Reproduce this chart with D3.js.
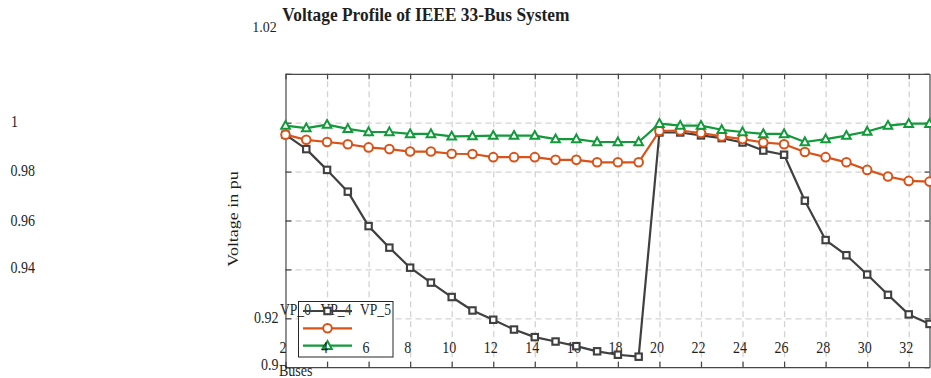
<!DOCTYPE html>
<html><head><meta charset="utf-8">
<script src="https://cdn.jsdelivr.net/npm/d3@7"></script>
<style>
body{margin:0;background:#fff}
svg{display:block}
text{font-family:"Liberation Serif","Times New Roman",serif;fill:#1f1f1f}
</style>
</head><body>
<svg id="c" width="931" height="378"></svg>
<script>
// ---------------- data ----------------
const busPositions = [2,3,4,5,6,7,8,9,10,11,12,13,14,15,16,17,18,19,20,21,22,23,24,25,26,27,28,29,30,31,32,33];
const seriesNames = ["VP_0", "VP_4", "VP_5"];
const vp0 = [0.9951,0.9892,0.9807,0.9718,0.9577,0.9489,0.9407,0.9346,0.9287,0.9232,0.9194,0.9154,0.9123,0.9105,0.9086,0.9065,0.9051,0.9043,
             0.9960,0.9960,0.9948,0.9937,0.9919,0.9886,0.9869,0.9681,0.9520,0.9458,0.9379,0.9296,0.9216,0.9177];
const vp4 = [0.9951,0.9930,0.9921,0.9912,0.9899,0.9892,0.9882,0.9882,0.9873,0.9872,0.9859,0.9859,0.9859,0.9848,0.9848,0.9838,0.9838,0.9838,
             0.9966,0.9968,0.9958,0.9944,0.9933,0.9919,0.9912,0.9880,0.9859,0.9838,0.9807,0.9780,0.9762,0.9759];
const vp5 = [0.9988,0.9978,0.9992,0.9975,0.9962,0.9962,0.9954,0.9954,0.9944,0.9945,0.9947,0.9947,0.9947,0.9933,0.9933,0.9921,0.9921,0.9921,
             0.9996,0.9988,0.9988,0.9971,0.9962,0.9954,0.9954,0.9921,0.9933,0.9947,0.9964,0.9988,0.9996,0.9996];
const xTicks = [2,4,6,8,10,12,14,16,18,20,22,24,26,28,30,32];
const yTicks = [0.9,0.92,0.94,0.96,0.98,1.0,1.02];
const yTickLabels = ["0.9","0.92","0.94","0.96","0.98","1","1.02"];
const chartTitle = "Voltage Profile of IEEE 33-Bus System";
const xLabel = "Buses";
const yLabel = "Voltage in pu";

// ---------------- layout / style ----------------
const svg = d3.select("#c");
const L = 285.5, R = 929.5, T = 73.8, B = 367.2;
const x = d3.scaleLinear().domain([2, 33]).range([L, R]);
const y = d3.scaleLinear().domain([0.9, 1.02]).range([B, T]);
const colors = ["#404040", "#d95319", "#119a3a"];
const markers = ["square", "circle", "triangle"];
const allSeries = [vp0, vp4, vp5];
const SX = 0.85; // horizontal squeeze of the serif text
const axisColor = "#474747";

function sqText(g, str, X, Y, opts) {
  const o = Object.assign({size:16.5, sx:SX, anchor:"start", weight:"normal"}, opts||{});
  return g.append("text")
    .attr("transform", `translate(${X},${Y}) scale(${o.sx},1)`)
    .attr("text-anchor", o.anchor)
    .style("font-size", o.size + "px")
    .style("font-weight", o.weight)
    .text(str);
}

// grid
const grid = svg.append("g");
grid.append("g").attr("transform", `translate(0,${B})`)
  .call(d3.axisBottom(x).tickValues(xTicks.filter(d => d > 2)).tickSize(-(B - T)).tickFormat(""))
  .call(g => g.select(".domain").remove());
grid.append("g").attr("transform", `translate(${L},0)`)
  .call(d3.axisLeft(y).tickValues(yTicks.filter(d => d > 0.9 && d < 1.02)).tickSize(-(R - L)).tickFormat(""))
  .call(g => g.select(".domain").remove());
grid.selectAll("line").attr("stroke", "#d3d3d3").attr("stroke-width", 1.3).attr("stroke-dasharray", "6,4");

// axes (box with inward ticks)
const axG = svg.append("g");
function styleAxis(g) {
  g.select(".domain").attr("stroke", axisColor).attr("stroke-width", 1.2);
  g.selectAll(".tick line").attr("stroke", axisColor).attr("stroke-width", 1.2);
}
axG.append("g").attr("transform", `translate(0,${B})`)
  .call(d3.axisBottom(x).tickValues(xTicks).tickSizeInner(-5.5).tickSizeOuter(0).tickFormat("")).call(styleAxis);
axG.append("g").attr("transform", `translate(0,${T})`)
  .call(d3.axisTop(x).tickValues(xTicks).tickSizeInner(-5.5).tickSizeOuter(0).tickFormat("")).call(styleAxis);
axG.append("g").attr("transform", `translate(${L},0)`)
  .call(d3.axisLeft(y).tickValues(yTicks).tickSizeInner(-6).tickSizeOuter(0).tickFormat("")).call(styleAxis);
axG.append("g").attr("transform", `translate(${R},0)`)
  .call(d3.axisRight(y).tickValues(yTicks).tickSizeInner(-5).tickSizeOuter(0).tickFormat("")).call(styleAxis);

// legend box (white, hides grid)
const leg = svg.append("g");
leg.append("rect").attr("x", 298.5).attr("y", 301.5).attr("width", 94.5).attr("height", 55.5)
  .attr("fill", "#fff").attr("stroke", "#262626").attr("stroke-width", 1);

// tick labels (scattered positions as in the reference)
const labels = svg.append("g");
xTicks.forEach(v => sqText(labels, String(v), x(v) - 2.5, B - 14.5, {anchor:"middle"}));
const yPlace = {
  "1.02": {anchor:"end", X: 276.7, dy: -41.5, size: 14, sx: 1},
  "1":    {anchor:"start", X: 11, dy: 4},
  "0.98": {anchor:"start", X: 10.5, dy: 4},
  "0.96": {anchor:"start", X: 10.5, dy: 5},
  "0.94": {anchor:"start", X: 10.5, dy: 3.5},
  "0.92": {anchor:"end", X: 278.5, dy: 5},
  "0.9":  {anchor:"end", X: 278.5, dy: 3}
};
yTicks.forEach((v, i) => {
  const p = yPlace[yTickLabels[i]];
  sqText(labels, yTickLabels[i], p.X, y(v) + p.dy, {anchor:p.anchor, size:p.size||16.5, sx:p.sx||SX});
});

// axis titles
sqText(svg, chartTitle, 282.3, 20.5, {size:18.5, sx:0.94, weight:"bold"});
sqText(svg, xLabel, 279, 375.5, {size:16.5});
svg.append("text")
  .attr("transform", `translate(237.5,219) rotate(-90) scale(1,0.8)`)
  .attr("text-anchor", "middle").style("font-size", "18px").text(yLabel);

// marker generator
function drawMarker(g, type, cx, cy, color) {
  if (type === "square") {
    g.append("rect").attr("x", cx - 3.2).attr("y", cy - 3.2).attr("width", 6.4).attr("height", 6.4)
      .attr("fill", "#fff").attr("stroke", color).attr("stroke-width", 2.1);
  } else if (type === "circle") {
    g.append("circle").attr("cx", cx).attr("cy", cy).attr("r", 4.3)
      .attr("fill", "#fff").attr("stroke", color).attr("stroke-width", 2);
  } else {
    g.append("path").attr("d", `M${cx},${cy - 4.6}L${cx + 4.3},${cy + 3.2}L${cx - 4.3},${cy + 3.2}Z`)
      .attr("fill", "#fff").attr("stroke", color).attr("stroke-width", 2).attr("stroke-linejoin", "miter");
  }
}

// legend entries
const legRows = [311, 328.3, 345.7];
const legTextX = [280, 320.5, 360];
seriesNames.forEach((name, i) => sqText(leg, name, legTextX[i], 315, {size:16}));
seriesNames.forEach((name, i) => {
  leg.append("line").attr("x1", 303).attr("x2", 352).attr("y1", legRows[i]).attr("y2", legRows[i])
    .attr("stroke", colors[i]).attr("stroke-width", 2.2);
  drawMarker(leg, markers[i], 327.5, legRows[i], colors[i]);
});

// series
const line = d3.line().x((d, i) => x(busPositions[i])).y(d => y(d));
allSeries.forEach((vals, s) => {
  const g = svg.append("g");
  g.append("path").datum(vals).attr("d", line).attr("fill", "none")
    .attr("stroke", colors[s]).attr("stroke-width", 2.2).attr("stroke-linejoin", "round");
  vals.forEach((v, i) => drawMarker(g, markers[s], x(busPositions[i]), y(v), colors[s]));
});
</script>
</body></html>
